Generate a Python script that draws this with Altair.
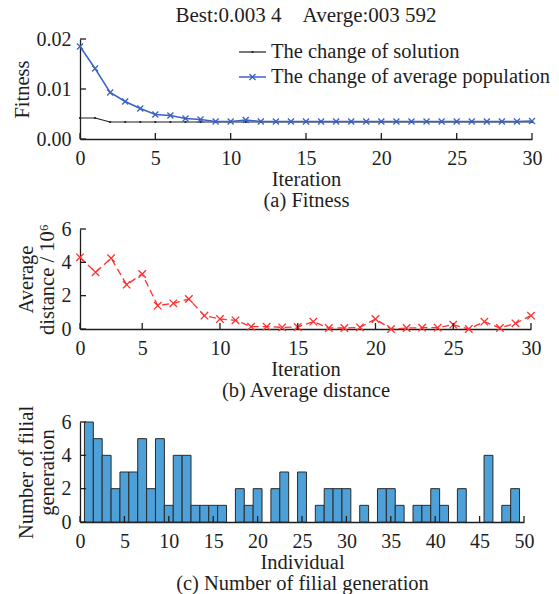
import altair as alt
import pandas as pd

FONT = "Liberation Serif"
INK = "#1e1e1e"
BLUE = "#3a62c6"
RED = "#ff3030"
BAR = "#4ea1d8"
XMARK = "M-1,-1L1,1M-1,1L1,-1"

# ---------------- (a) Fitness ----------------
iteration_a = [0, 1, 2, 3, 4, 5, 6, 7, 8, 9, 10, 11, 12, 13, 14, 15,
               16, 17, 18, 19, 20, 21, 22, 23, 24, 25, 26, 27, 28, 29, 30]
best_fitness = [0.0042, 0.0042, 0.0034, 0.0034, 0.0034, 0.0034, 0.0034, 0.0034,
                0.0034, 0.0034, 0.0034, 0.0034, 0.0034, 0.0034, 0.0034, 0.0034,
                0.0034, 0.0034, 0.0034, 0.0034, 0.0034, 0.0034, 0.0034, 0.0034,
                0.0034, 0.0034, 0.0034, 0.0034, 0.0034, 0.0034, 0.0034]
avg_fitness = [0.0185, 0.0141, 0.0093, 0.0075, 0.0061, 0.0049, 0.0047, 0.0041,
               0.0039, 0.0035, 0.0035, 0.0038, 0.0035, 0.0035, 0.0035, 0.0035,
               0.0035, 0.0035, 0.0035, 0.0035, 0.0035, 0.0035, 0.0035, 0.0035,
               0.0035, 0.0035, 0.0035, 0.0035, 0.0035, 0.0035, 0.0036]
x_ticks_a = [0, 5, 10, 15, 20, 25, 30]
y_ticks_a = [0.0, 0.01, 0.02]
title_a = "Best:0.003 4\u00a0\u00a0\u00a0\u00a0Averge:003 592"
legend_labels = ["The change of solution", "The change of average population"]

# ---------------- (b) Average distance ----------------
position_b = [0, 1, 2, 3, 4, 5, 6, 7, 8, 9, 10, 11, 12, 13, 14,
              15, 16, 17, 18, 19, 20, 21, 22, 23, 24, 25, 26, 27, 28, 29]
avg_distance = [4.3, 3.4, 4.25, 2.66, 3.3, 1.4, 1.54, 1.8, 0.8, 0.6,
                0.52, 0.14, 0.14, 0.1, 0.12, 0.44, 0.06, 0.06, 0.1, 0.6,
                0.0, 0.06, 0.08, 0.08, 0.26, 0.0, 0.44, 0.06, 0.34, 0.8]
x_tick_pos_b = [0, 4, 9, 14, 19, 24, 29]
x_tick_labels_b = ["0", "5", "10", "15", "20", "25", "30"]
y_ticks_b = [0, 2, 4, 6]

# ---------------- (c) Number of filial generation ----------------
individual = [1, 2, 3, 4, 5, 6, 7, 8, 9, 10, 11, 12, 13, 14, 15, 16, 17,
              18, 19, 20, 21, 22, 23, 24, 25, 26, 27, 28, 29, 30, 31, 32, 33,
              34, 35, 36, 37, 38, 39, 40, 41, 42, 43, 44, 45, 46, 47, 48, 49]
filial_count = [6, 5, 4, 2, 3, 3, 5, 2, 5, 1,
                4, 4, 1, 1, 1, 1, 0, 2, 1, 2,
                0, 2, 3, 0, 3, 0, 1, 2, 2, 2,
                0, 1, 0, 2, 2, 1, 0, 1, 1, 2,
                1, 0, 2, 0, 0, 4, 0, 1, 2]
x_ticks_c = [0, 5, 10, 15, 20, 25, 30, 35, 40, 45, 50]
y_ticks_c = [0, 2, 4, 6]

TICK_LEN = 6
LABEL_SIZE = 20
TITLE_SIZE = 20.5


def xaxis(values, title, label_expr=None):
    kw = dict(values=values, title=title, ticks=False, tickSize=0,
              domainColor=INK, domainWidth=1.3, grid=False,
              labelFont=FONT, labelFontSize=LABEL_SIZE, labelColor=INK, labelPadding=9,
              labelFlush=False, labelOverlap=False,
              titleFont=FONT, titleFontSize=TITLE_SIZE, titleFontWeight="normal",
              titleColor=INK, titleLineHeight=21, titlePadding=1)
    if label_expr:
        kw["labelExpr"] = label_expr
    return alt.Axis(**kw)


def yaxis(values, title, fmt=None):
    kw = dict(values=values, title=title, ticks=False, tickSize=0,
              domainColor=INK, domainWidth=1.3, grid=False,
              labelFont=FONT, labelFontSize=LABEL_SIZE, labelColor=INK, labelPadding=9,
              labelFlush=False, labelOverlap=False,
              titleFont=FONT, titleFontSize=TITLE_SIZE, titleFontWeight="normal",
              titleColor=INK, titleLineHeight=21, titlePadding=4)
    if fmt:
        kw["format"] = fmt
    return alt.Axis(**kw)


def inward_ticks(xvals, yvals, xenc, yenc, h):
    tx = alt.Chart(pd.DataFrame({"t": xvals})).mark_rule(color=INK, strokeWidth=1.3).encode(
        x=xenc("t"), y=alt.value(h), y2=alt.value(h - TICK_LEN))
    ty = alt.Chart(pd.DataFrame({"t": yvals})).mark_rule(color=INK, strokeWidth=1.3).encode(
        y=yenc("t"), x=alt.value(0), x2=alt.value(TICK_LEN))
    return [tx, ty]


# ----- panel a -----
WA, HA = 452, 100
xs_a = alt.Scale(domain=[0, 30], nice=False, zero=False)
ys_a = alt.Scale(domain=[0, 0.02], nice=False)
ax_xa = xaxis(x_ticks_a, ["Iteration", "(a) Fitness"])
ax_ya = yaxis(y_ticks_a, "Fitness", ".2f")


def XA(field):
    return alt.X(f"{field}:Q", scale=xs_a, axis=ax_xa)


def YA(field):
    return alt.Y(f"{field}:Q", scale=ys_a, axis=ax_ya)


df_a = pd.DataFrame({"iter": iteration_a, "best": best_fitness, "avg": avg_fitness})

best_line = alt.Chart(df_a).mark_line(color=INK, strokeWidth=1.2).encode(x=XA("iter"), y=YA("best"))
best_pts = alt.Chart(df_a).mark_point(shape="circle", filled=True, size=5, color=INK, opacity=1).encode(
    x=XA("iter"), y=YA("best"))
avg_line = alt.Chart(df_a).mark_line(color=BLUE, strokeWidth=1.5).encode(x=XA("iter"), y=YA("avg"))
avg_pts = alt.Chart(df_a).mark_point(shape=XMARK, filled=False, size=36, strokeWidth=1.3,
                                     color=BLUE, opacity=1).encode(x=XA("iter"), y=YA("avg"))

one = pd.DataFrame({"k": [0]})
LX0, LX1, LTX = 159, 186, 191
LY1, LY2 = 13, 38
leg = [
    alt.Chart(one).mark_rule(color=INK, strokeWidth=1.2).encode(
        x=alt.value(LX0), x2=alt.value(LX1), y=alt.value(LY1)),
    alt.Chart(one).mark_point(shape="circle", filled=True, size=5, color=INK, opacity=1).encode(
        x=alt.value((LX0 + LX1) / 2), y=alt.value(LY1)),
    alt.Chart(one).mark_text(align="left", baseline="middle", font=FONT, fontSize=20.5, color=INK).encode(
        x=alt.value(LTX), y=alt.value(LY1), text=alt.value(legend_labels[0])),
    alt.Chart(one).mark_rule(color=BLUE, strokeWidth=1.5).encode(
        x=alt.value(LX0), x2=alt.value(LX1), y=alt.value(LY2)),
    alt.Chart(one).mark_point(shape=XMARK, filled=False, size=36, strokeWidth=1.3, color=BLUE, opacity=1).encode(
        x=alt.value((LX0 + LX1) / 2), y=alt.value(LY2)),
    alt.Chart(one).mark_text(align="left", baseline="middle", font=FONT, fontSize=20.5, color=INK).encode(
        x=alt.value(LTX), y=alt.value(LY2), text=alt.value(legend_labels[1])),
]

panel_a = alt.layer(best_line, best_pts, avg_line, avg_pts,
                    *inward_ticks(x_ticks_a, y_ticks_a, XA, YA, HA),
                    *leg).properties(
    width=WA, height=HA,
    title=alt.TitleParams(title_a, font=FONT, fontSize=21, fontWeight="normal", color=INK,
                          anchor="middle", offset=3))

# ----- panel b -----
WB, HB = 451, 100
xs_b = alt.Scale(domain=[0, 29], nice=False, zero=False)
ys_b = alt.Scale(domain=[0, 6], nice=False)
expr_b = " : ".join(f"datum.value == {p} ? '{l}'" for p, l in zip(x_tick_pos_b, x_tick_labels_b)) + " : ''"
ax_xb = xaxis(x_tick_pos_b, ["Iteration", "(b) Average distance"], expr_b)
ax_yb = yaxis(y_ticks_b, ["Average", "distance / 10\u2076"])


def XB(field):
    return alt.X(f"{field}:Q", scale=xs_b, axis=ax_xb)


def YB(field):
    return alt.Y(f"{field}:Q", scale=ys_b, axis=ax_yb)


df_b = pd.DataFrame({"pos": position_b, "dist": avg_distance})
dist_line = alt.Chart(df_b).mark_line(color=RED, strokeWidth=1.3, strokeDash=[7, 4]).encode(
    x=XB("pos"), y=YB("dist"))
dist_pts = alt.Chart(df_b).mark_point(shape=XMARK, filled=False, size=56, strokeWidth=1.3,
                                      color=RED, opacity=1).encode(x=XB("pos"), y=YB("dist"))
panel_b = alt.layer(dist_line, dist_pts,
                    *inward_ticks(x_tick_pos_b, y_ticks_b, XB, YB, HB)).properties(
    width=WB, height=HB)

# ----- panel c -----
WC, HC = 444, 100
xs_c = alt.Scale(domain=[0, 50], nice=False, zero=False)
ys_c = alt.Scale(domain=[0, 6], nice=False)
ax_xc = xaxis(x_ticks_c, ["Individual", "(c) Number of filial generation"])
ax_yc = yaxis(y_ticks_c, ["Number of filial", "generation"])


def XC(field):
    return alt.X(f"{field}:Q", scale=xs_c, axis=ax_xc)


def YC(field):
    return alt.Y(f"{field}:Q", scale=ys_c, axis=ax_yc)


df_c = pd.DataFrame({"ind": individual, "n": filial_count})
bars = alt.Chart(df_c).transform_filter("datum.n > 0").transform_calculate(
    lo="datum.ind - 0.5", hi="datum.ind + 0.5").mark_rect(
    fill=BAR, stroke="#2a2a2a", strokeWidth=1).encode(
    x=XC("lo"), x2="hi:Q", y=YC("n"), y2=alt.datum(0))
panel_c = alt.layer(bars, *inward_ticks(x_ticks_c, y_ticks_c, XC, YC, HC)).properties(
    width=WC, height=HC)

chart = alt.vconcat(
    alt.vconcat(panel_a, panel_b, spacing=8),
    panel_c, spacing=4
).properties(
    padding={"left": 12, "top": 5, "right": 0, "bottom": 0}
).configure_view(stroke=None)

chart.save("out.html", embed_options={"renderer": "svg", "actions": False})
